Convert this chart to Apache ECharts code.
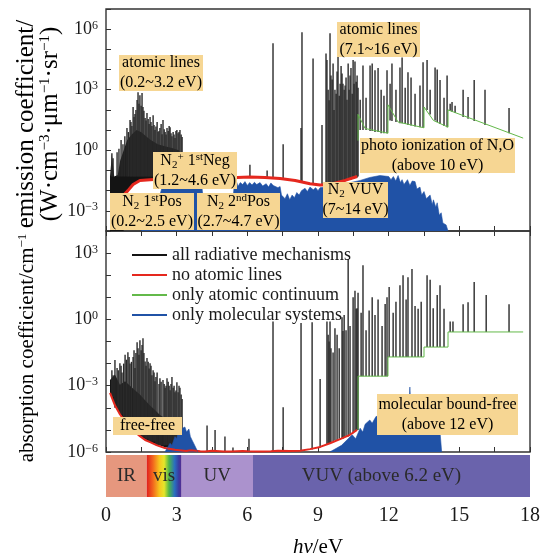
<!DOCTYPE html>
<html>
<head>
<meta charset="utf-8">
<script src="https://cdn.jsdelivr.net/npm/echarts@6/dist/echarts.min.js"></script>
<style>
html,body{margin:0;padding:0;background:#fff}
#chart{width:545px;height:555px}
</style>
</head>
<body>
<div id="chart"></div>
<script>
// ---------- photon energy (eV) ----------
const energyTickLabels = [0, 3, 6, 9, 12, 15, 18];

// ---------- emission coefficient (W·cm^-3·µm^-1·sr^-1) ----------
// solid core of the IR / visible line forest: upper edge and floor
const emisForestTop = [[0.17,0.05],[0.25,0.6],[0.35,0.05],[0.5,0.06],[0.6,0.3],[0.75,1],[0.9,3.2],[1.1,6.3],[1.3,10],[1.5,7.9],[1.7,5],[1.9,3.2],[2.2,2],[2.5,1.6],[2.8,1.3],[3.1,1],[3.27,0.3]];
const emisForestFloor = [[0.17,1e-4],[0.75,1e-4],[0.76,6.3e-3],[0.93,1e-2],[1.15,2e-2],[1.44,3.2e-2],[1.87,3.5e-2],[2.72,4e-2],[3.27,4.2e-2]];
// individual atomic lines: [energy, foot, peak]
const emisLines = [
  [0.25,0.05,0.72],[0.30,0.05,0.4],[0.47,0.05,0.8],[0.55,0.05,1.2],[0.64,0.05,3.2],[0.72,0.05,2],[0.80,0.05,5],[0.89,0.05,12.6],[0.95,0.05,8],
  [1.02,0.05,32],[1.06,0.05,25],[1.10,0.05,16],[1.15,0.05,140],[1.19,0.05,45],[1.23,0.05,63],[1.27,0.05,100],[1.32,0.05,310],[1.36,0.05,760],
  [1.40,0.05,200],[1.44,0.05,540],[1.49,0.05,160],[1.53,0.05,680],[1.57,0.05,140],[1.61,0.05,90],[1.66,0.05,40],[1.70,0.05,30],[1.74,0.05,70],
  [1.79,0.05,35],[1.83,0.05,20],[1.87,0.05,44],[1.91,0.05,25],[1.95,0.05,16],[2.00,0.05,55],[2.04,0.05,18],[2.08,0.05,10],[2.12,0.05,15],
  [2.17,0.05,25],[2.21,0.05,8],[2.25,0.05,9],[2.29,0.05,12.6],[2.34,0.05,20],[2.38,0.05,6.3],[2.42,0.05,32],[2.47,0.05,11],[2.51,0.05,8],
  [2.55,0.05,6],[2.59,0.05,12.6],[2.64,0.05,9],[2.68,0.05,16],[2.72,0.05,14],[2.76,0.05,7],[2.80,0.05,5],[2.85,0.05,8],[2.89,0.05,6],
  [2.93,0.05,4],[2.97,0.05,9],[3.01,0.05,10],[3.06,0.05,7],[3.10,0.05,8],[3.14,0.05,10],[3.19,0.05,6],[3.23,0.05,4.5],
  [6.11,0.047,0.19],[6.84,0.045,0.1],[7.09,0.04,2e5],[7.52,0.04,2],[8.28,0.03,12.6],[8.32,0.03,7e5],[8.79,0.022,3.5e4],[9.17,0.019,18],
  [9.34,0.02,6.3e4],[9.38,0.02,3e4],[9.43,0.02,1e3],[9.47,0.02,300],[9.51,0.02,6.3e5],[9.55,0.02,5e3],[9.60,0.02,3.2e3],[9.64,0.02,2e4],
  [9.68,0.02,100],[9.72,0.02,1e3],[9.77,0.025,630],[9.81,0.025,8e3],[9.85,0.025,1.26e5],[9.90,0.025,500],[9.94,0.025,2e3],[9.98,0.03,1.5e4],
  [10.02,0.03,6.3e3],[10.06,0.03,2e3],[10.11,0.03,1e3],[10.15,0.03,1.6e3],[10.19,0.03,4e3],[10.23,0.03,316],[10.28,0.035,2e4],[10.32,0.035,1e3],
  [10.36,0.035,5e3],[10.40,0.035,1.2e4],[10.45,0.04,630],[10.49,0.04,3e4],[10.53,0.04,2e3],[10.57,0.045,2.5e4],[10.62,0.045,2.5e3],[10.66,0.045,5e3],
  [10.70,0.05,1.26e3],[10.79,10,316],[10.91,10,1.6e4],[11.04,10,400],[11.21,9,1.6e4],[11.30,9,2e4],[11.42,8,9.3e3],[11.55,8,1.2e4],
  [11.68,7,1e3],[11.80,7,500],[11.93,7,9.3e3],[12.06,30,2e3],[12.14,28,2e4],[12.31,25,1e3],[12.48,22,1.26e4],[12.57,22,4e4],
  [12.70,20,1.26e3],[12.82,18,7.4e3],[12.95,17,4e3],[13.12,15,630],[13.33,14,1.6e3],[13.46,13,2.3e4],[13.63,100,3e4],[13.76,60,1e3],
  [13.97,30,1.26e4],[14.06,25,1e4],[14.18,20,3e3],[14.35,16,400],[14.48,14,5e3],[14.61,90,200],[14.69,80,250],[14.82,70,160],
  [15.16,45,1e3],[15.37,36,430],[15.63,28,3e3],[16.09,18,1e3],[17.11,7,126]
];
const emisNoLines = [[0.76,6.3e-3],[0.93,1e-2],[1.15,2e-2],[1.44,3.2e-2],[1.87,3.5e-2],[2.72,4e-2],[3.99,4.5e-2],[5.56,4.5e-2],[6.11,4.7e-2],[6.75,4.5e-2],[7.39,4e-2],[8.03,3.2e-2],[8.66,2.2e-2],[9.09,1.9e-2],[9.51,2e-2],[10.15,3.2e-2],[10.66,5e-2]];
const emisContinuum = [[10.70,3],[10.70,60],[11.0,12],[11.97,7],[11.97,180],[12.4,25],[13.5,13],[13.5,140],[13.9,30],[14.52,14],[14.52,100],[17.71,4]];
const emisMolecular = [
  [1.50,1e-4],[1.53,6e-3],[1.70,4e-3],[1.90,6e-3],[2.29,6e-3],[2.36,1.2e-2],[4.08,1.2e-2],[4.12,5e-3],[5.40,5e-3],
  [5.45,2.2e-2],[5.55,2.6e-2],[5.6,1.6e-2],[5.7,2.5e-2],[5.8,2e-2],[5.9,2.8e-2],[6.0,1.8e-2],[6.1,2.5e-2],[6.2,1.9e-2],[6.3,2.6e-2],
  [6.4,2e-2],[6.54,2.5e-2],[6.65,1.7e-2],[6.8,2.2e-2],[6.9,1.5e-2],[7.0,2.4e-2],[7.1,1.8e-2],[7.18,2.2e-2],[7.3,1.4e-2],[7.39,1.6e-2],
  [7.45,6e-3],[7.6,4e-3],[7.7,7e-3],[7.8,3.5e-3],[7.9,6e-3],[8.0,4.5e-3],[8.1,8e-3],[8.2,6e-3],[8.3,1e-2],[8.45,1.3e-2],[8.55,9e-3],
  [8.66,1.5e-2],[8.8,1.1e-2],[8.9,1.4e-2],[9.0,1e-2],[9.09,1.4e-2],[9.51,1.6e-2],[10.0,2e-2],[10.79,3.2e-2],[11.2,4.5e-2],[11.63,5.6e-2],
  [12.0,5e-2],[12.1,3.5e-2],[12.2,5e-2],[12.3,3e-2],[12.4,5.6e-2],[12.5,2.5e-2],[12.57,3.5e-2],[12.65,2e-2],[12.8,3.5e-2],[12.9,1.8e-2],
  [13.0,3e-2],[13.12,2.8e-2],[13.2,1.2e-2],[13.33,1.5e-2],[13.4,6e-3],[13.5,9e-3],[13.6,4e-3],[13.76,6e-3],[13.85,2e-3],[13.9,3.5e-3],
  [14.0,1.5e-3],[14.06,2.5e-3],[14.15,6e-4],[14.23,8e-4],[14.3,2.5e-4],[14.44,2e-4],[14.52,1e-4]
];

// ---------- absorption coefficient (cm^-1) ----------
const absForestTop = [[0.17,1.8e-3],[0.38,3.2e-3],[0.59,1.1e-3],[0.81,1.6e-3],[1.02,1e-3],[1.23,6.3e-4],[1.44,4e-4],[1.66,2.2e-4],[1.87,1.26e-4],[2.08,8e-5],[2.29,4.7e-5],[2.51,3.4e-5],[2.72,2.8e-5],[2.93,2.5e-5],[3.14,1.66e-5],[3.27,5e-6]];
const absForestFloor = [[0.17,4.7e-4],[0.38,1.3e-4],[0.59,5.1e-5],[1.02,1.35e-5],[1.44,5.2e-6],[1.87,2.8e-6],[2.5,1.66e-6],[3.27,1.35e-6]];
const absLines = [
  [0.25,3e-4,5e-3],[0.30,3e-4,3e-3],[0.38,1e-4,1.45e-2],[0.47,1e-4,6.3e-3],[0.52,8e-5,5e-3],[0.59,5e-5,1.05e-2],[0.64,5e-5,8e-3],[0.68,5e-5,4e-3],
  [0.75,4e-5,1e-2],[0.81,3e-5,2.5e-2],[0.87,3e-5,1.5e-2],[0.93,2e-5,3.3e-2],[0.98,2e-5,2e-2],[1.02,2e-5,1e-2],[1.08,1.5e-5,1.2e-2],[1.15,1e-5,2e-2],
  [1.19,1e-5,4e-2],[1.23,1e-5,6.3e-3],[1.27,1e-5,3e-2],[1.32,8e-6,9.3e-2],[1.36,8e-6,5e-2],[1.40,8e-6,2.5e-2],[1.44,6e-6,0.115],[1.49,6e-6,4e-2],
  [1.53,5e-6,7e-2],[1.57,5e-6,0.14],[1.61,5e-6,3e-2],[1.66,4e-6,1.26e-2],[1.70,4e-6,8e-3],[1.74,4e-6,1.8e-2],[1.79,4e-6,1.2e-2],[1.83,3e-6,6e-3],
  [1.87,3e-6,1.05e-2],[1.91,3e-6,8e-3],[1.95,3e-6,3e-3],[2.00,3e-6,5e-3],[2.04,3e-6,4e-3],[2.08,3e-6,1.6e-3],[2.12,2e-6,2.5e-3],[2.17,2e-6,4e-3],
  [2.25,2e-6,1.2e-3],[2.29,2e-6,2.2e-3],[2.34,2e-6,1.5e-3],[2.42,2e-6,1.8e-3],[2.47,2e-6,1.2e-3],[2.51,2e-6,8e-4],[2.55,2e-6,1e-3],[2.59,2e-6,2.2e-3],
  [2.64,2e-6,1.5e-3],[2.68,2e-6,1e-3],[2.72,2e-6,6.3e-4],[2.76,2e-6,1.2e-3],[2.80,2e-6,2.5e-3],[2.85,1.5e-6,8e-4],[2.89,1.5e-6,1e-3],[2.93,1.5e-6,5e-4],
  [2.97,1.5e-6,6e-4],[3.01,1.5e-6,1.45e-3],[3.06,1.5e-6,5e-4],[3.10,1.5e-6,1e-3],[3.14,1.5e-6,8e-4],[3.19,1.5e-6,4e-4],[3.23,1.5e-6,2.5e-4],
  [4.29,1.1e-6,1.6e-5],[4.63,1.1e-6,1e-5],[5.05,1.1e-6,5e-6],[5.39,1.1e-6,1.6e-6],[6.07,1.1e-6,4e-6],[7.09,1.1e-6,0.8],[7.52,1.1e-6,1.07e-4],
  [8.28,1.1e-6,0.68],[8.75,1.3e-6,0.74],[9.09,1.6e-6,2e-3],[9.38,2.2e-6,0.8],[9.43,2.3e-6,0.2],[9.47,2.4e-6,0.1],[9.51,2.5e-6,0.8],[9.55,2.6e-6,5e-2],
  [9.64,3e-6,3.2e-2],[9.72,3.3e-6,0.4],[9.81,3.5e-6,0.2],[9.90,4e-6,5e-2],[10.02,4e-6,1.26],[10.06,4e-6,0.3],[10.11,4.5e-6,1.6],[10.19,5e-6,0.32],
  [10.28,5e-6,540],[10.36,6e-6,0.5],[10.49,7e-6,10],[10.57,8e-6,20],[10.62,9e-6,3],[10.66,1e-5,3.2],[10.70,1e-5,16],
  [10.83,2.7e-3,2],[10.91,2.7e-3,280],[11.04,2.7e-3,0.32],[11.17,2.7e-3,2.5],[11.30,2.7e-3,10],[11.42,2.7e-3,1.6],[11.55,2.7e-3,8],[11.72,2.7e-3,0.5],
  [11.85,2.7e-3,5],[11.93,2.7e-3,10],[12.02,2e-2,29],[12.19,2e-2,2],[12.31,2e-2,6.3],[12.48,2e-2,35],[12.61,2e-2,100],[12.74,2e-2,8],[12.82,2e-2,80],
  [12.99,2e-2,190],[13.12,2e-2,4],[13.25,2e-2,3],[13.38,2e-2,6.3],[13.63,5.6e-2,100],[13.76,5.6e-2,63],[13.89,5.6e-2,3.2],[14.06,5.6e-2,12.6],
  [14.18,5.6e-2,35],[14.35,5.6e-2,3],[14.61,0.27,0.8],[14.73,0.27,0.8],[15.16,0.27,4.9],[15.37,0.27,6],[15.63,0.27,49],[16.14,0.27,12.6],[17.11,0.27,4.9]
];
const absNoLines = [[0.17,4.7e-4],[0.38,1.3e-4],[0.59,5.1e-5],[0.8,2.5e-5],[1.02,1.35e-5],[1.23,8e-6],[1.44,5.2e-6],[1.66,3.5e-6],[1.87,2.8e-6],[2.17,2e-6],[2.5,1.5e-6],[2.93,1.25e-6],[3.4,1.12e-6],[3.6,1.2e-6],[4.0,1.08e-6],[4.2,1.05e-6],[4.5,1.15e-6],[5.0,1.06e-6],[5.3,1.05e-6],[5.8,1.12e-6],[6.0,1.08e-6],[6.6,1.05e-6],[7.0,1.08e-6],[7.3,1.15e-6],[7.8,1.1e-6],[8.24,1.15e-6],[8.66,1.35e-6],[9.09,1.7e-6],[9.51,2.5e-6],[9.94,3.8e-6],[10.36,6e-6],[10.66,1e-5]];
const absContinuum = [[10.70,1e-5],[10.70,2.7e-3],[11.97,2.7e-3],[11.97,2e-2],[13.5,2e-2],[13.5,5.6e-2],[14.52,5.6e-2],[14.52,0.27],[17.71,0.27]];
const absMolecular = [
  [2.5,1e-6],[2.6,1.5e-6],[2.72,2.5e-6],[2.8,2e-6],[2.93,5e-6],[3.0,4e-6],[3.05,7e-6],[3.14,1e-5],[3.2,7e-6],[3.25,1.2e-5],[3.35,1.35e-5],
  [3.42,8e-6],[3.45,9e-6],[3.52,1.1e-5],[3.58,5e-6],[3.65,3.5e-6],[3.72,2.5e-6],[3.82,1.5e-6],[3.9,1e-6],[6.5,'-'],
  [9.5,1e-6],[10.0,2e-6],[10.45,6e-6],[10.6,4e-6],[10.79,1.2e-5],[10.9,8e-6],[11.0,1.8e-5],[11.2,2.8e-5],[11.3,2e-5],[11.46,4e-5],
  [11.8,5e-5],[12.4,6e-5],[12.85,7e-5],[12.9,8.7e-4],[12.95,7e-5],[13.5,4e-5],[14.0,1.5e-5],[14.1,6e-6],[14.18,8e-6],[14.25,1e-6]
];

// ---------- spectral regions ----------
const bandEdges = [0, 1.73, 3.21, 6.24, 18];
const bandNames = ['IR', 'vis', 'UV', 'VUV (above 6.2 eV)'];

// ---------- styling ----------
const FONT = '"Liberation Serif", "Times New Roman", serif';
const INK = '#1a1a1a';
const C_ALL = '#141414', C_RED = '#e5281e', C_GREEN = '#63b94a', C_BLUE = '#2052a6';
const NOTE_BG = '#f6d693';
const bandFills = [
  '#e6977e',
  {type:'linear', x:0, y:0, x2:1, y2:0, colorStops:[
    {offset:0,color:'#e01f1c'},{offset:0.18,color:'#f2671e'},{offset:0.36,color:'#f7c41e'},{offset:0.5,color:'#e6e62a'},
    {offset:0.64,color:'#4cb54a'},{offset:0.8,color:'#2a6fc0'},{offset:0.92,color:'#3a3aa0'},{offset:1,color:'#5a2a90'}]},
  '#ab92cd',
  '#6a63ac'
];
// the long VUV caption sits a little left of its strip's centre
const bandTextShift = [0, 0, 0, -10];

function powLabel(v) {
  const e = Math.round(Math.log10(v));
  if (e % 3 !== 0) return '';
  return '{b|10}{s|' + (e < 0 ? '\u2212' + (-e) : e) + '}';
}
const powRich = {
  b: {fontSize: 18, fontFamily: FONT, color: INK},
  s: {fontSize: 12, fontFamily: FONT, color: INK, padding: [0, 0, 7, 0]}
};

function spikeRender(params, api) {
  const x = api.value(0);
  const a = api.coord([x, api.value(1)]);
  const b = api.coord([x, api.value(2)]);
  return {type: 'line', shape: {x1: a[0], y1: a[1], x2: b[0], y2: b[1]},
          style: {stroke: '#2a2a2a', lineWidth: 1.4, opacity: 1}};
}
function forestRender(upper, lower) {
  return function (params, api) {
    if (params.dataIndex !== 0) return null;
    const pts = upper.map(p => api.coord(p)).concat(lower.slice().reverse().map(p => api.coord(p)));
    return {type: 'polygon', shape: {points: pts}, style: {fill: C_ALL}};
  };
}

function xAxisPanel(grid, pos) {
  return {type: 'value', gridIndex: grid, min: 0, max: 18, interval: 1.5, position: pos,
    axisLine: {show: false}, axisLabel: {show: false}, splitLine: {show: false},
    axisTick: {inside: true, length: 5, lineStyle: {color: '#333', width: 1}}};
}
function yAxisPanel(grid, min, max) {
  return {type: 'log', logBase: 10, gridIndex: grid, min: min, max: max, interval: 1,
    axisLine: {show: false}, splitLine: {show: false},
    axisTick: {inside: true, length: 5, lineStyle: {color: '#333', width: 1}},
    axisLabel: {formatter: powLabel, rich: powRich, margin: 8, showMinLabel: true, showMaxLabel: true}};
}

const option = {
  animation: false,
  backgroundColor: '#fff',
  grid: [
    {left: 106, width: 424, top: 9, height: 222, show: true, borderColor: '#333', borderWidth: 1.4, backgroundColor: 'transparent'},
    {left: 106, width: 424, top: 231, height: 221, show: true, borderColor: '#333', borderWidth: 1.4, backgroundColor: 'transparent'},
    {left: 106, width: 424, top: 455, height: 42}
  ],
  xAxis: [
    xAxisPanel(0, 'bottom'),
    xAxisPanel(1, 'bottom'),
    xAxisPanel(1, 'top'),
    {type: 'value', gridIndex: 2, min: 0, max: 18, interval: 3, position: 'bottom',
     axisLine: {show: false}, axisTick: {show: false}, splitLine: {show: false},
     axisLabel: {margin: 9, fontSize: 20, fontFamily: FONT, color: INK,
                 formatter: v => (energyTickLabels.indexOf(v) >= 0 ? String(v) : '')}}
  ],
  yAxis: [
    yAxisPanel(0, 1e-4, 1e7),
    yAxisPanel(1, 1e-6, 1e4),
    {type: 'value', gridIndex: 2, min: 0, max: 1, show: false}
  ],
  legend: {
    orient: 'vertical', left: 127, top: 241, itemWidth: 35, itemHeight: 2, itemGap: 2,
    icon: 'rect', selectedMode: false,
    textStyle: {fontSize: 18, fontFamily: FONT, color: INK},
    data: [
      {name: 'all radiative mechanisms', itemStyle: {color: C_ALL}},
      {name: 'no atomic lines', itemStyle: {color: C_RED}},
      {name: 'only atomic continuum', itemStyle: {color: C_GREEN}},
      {name: 'only molecular systems', itemStyle: {color: C_BLUE}}
    ]
  },
  series: [
    // emission panel
    {type: 'custom', name: 'all radiative mechanisms', xAxisIndex: 0, yAxisIndex: 0, clip: true,
     data: [emisForestTop[0]], encode: {x: 0, y: 1}, renderItem: forestRender(emisForestTop, emisForestFloor)},
    {type: 'custom', name: 'all radiative mechanisms', xAxisIndex: 0, yAxisIndex: 0, clip: true,
     data: emisLines, encode: {x: 0, y: [1, 2]}, renderItem: spikeRender},
    {type: 'line', name: 'no atomic lines', xAxisIndex: 0, yAxisIndex: 0, data: emisNoLines, showSymbol: false,
     lineStyle: {color: C_RED, width: 3}, itemStyle: {color: C_RED}},
    {type: 'line', name: 'only atomic continuum', xAxisIndex: 0, yAxisIndex: 0, data: emisContinuum, showSymbol: false,
     lineStyle: {color: C_GREEN, width: 1}, itemStyle: {color: C_GREEN}},
    {type: 'line', name: 'only molecular systems', xAxisIndex: 0, yAxisIndex: 0, data: emisMolecular, showSymbol: false,
     lineStyle: {color: C_BLUE, width: 0.6}, itemStyle: {color: C_BLUE}, areaStyle: {color: C_BLUE, opacity: 1, origin: 'start'}},
    // absorption panel
    {type: 'custom', name: 'all radiative mechanisms', xAxisIndex: 1, yAxisIndex: 1, clip: true,
     data: [absForestTop[0]], encode: {x: 0, y: 1}, renderItem: forestRender(absForestTop, absForestFloor)},
    {type: 'custom', name: 'all radiative mechanisms', xAxisIndex: 1, yAxisIndex: 1, clip: true,
     data: absLines, encode: {x: 0, y: [1, 2]}, renderItem: spikeRender},
    {type: 'line', name: 'no atomic lines', xAxisIndex: 1, yAxisIndex: 1, data: absNoLines, showSymbol: false,
     lineStyle: {color: C_RED, width: 2}, itemStyle: {color: C_RED}},
    {type: 'line', name: 'only atomic continuum', xAxisIndex: 1, yAxisIndex: 1, data: absContinuum, showSymbol: false,
     lineStyle: {color: C_GREEN, width: 1}, itemStyle: {color: C_GREEN}},
    {type: 'line', name: 'only molecular systems', xAxisIndex: 1, yAxisIndex: 1, data: absMolecular, showSymbol: false,
     connectNulls: false, lineStyle: {color: C_BLUE, width: 0.6}, itemStyle: {color: C_BLUE},
     areaStyle: {color: C_BLUE, opacity: 1, origin: 'start'}},
    // spectral regions strip
    {type: 'custom', xAxisIndex: 3, yAxisIndex: 2, silent: true,
     data: bandNames.map((n, i) => [bandEdges[i], bandEdges[i + 1], i]),
     renderItem: function (params, api) {
       const i = api.value(2);
       const p0 = api.coord([api.value(0), 1]);
       const p1 = api.coord([api.value(1), 0]);
       return {type: 'group', children: [
         {type: 'rect', shape: {x: p0[0], y: p0[1], width: p1[0] - p0[0], height: p1[1] - p0[1]}, style: {fill: bandFills[i]}},
         {type: 'text', x: (p0[0] + p1[0]) / 2 + bandTextShift[i], y: (p0[1] + p1[1]) / 2,
          style: {text: bandNames[i], align: 'center', verticalAlign: 'middle', fontSize: 19, fontFamily: FONT, fill: '#2a2a2a'}}
       ]};
     }}
  ],
  graphic: []
};

// annotation boxes
const noteRich = function (color) {
  return {
    t: {fontSize: 16, fontFamily: FONT, color: color, lineHeight: 20},
    sub: {fontSize: 11, fontFamily: FONT, color: color, padding: [9, 0, 0, 0]},
    sup: {fontSize: 11, fontFamily: FONT, color: color, padding: [0, 0, 7, 0]}
  };
};
const notes = [
  {x: 119, y: 55, w: 84, h: 36, c: INK, text: '{t|atomic lines}\n{t|(0.2~3.2 eV)}'},
  {x: 337, y: 22, w: 83, h: 35, c: INK, text: '{t|atomic lines}\n{t|(7.1~16 eV)}'},
  {x: 153, y: 152, w: 84, h: 37, c: '#8783d0', text: '{t|N}{sub|2}{sup|+}{t| 1}{sup|st}{t|Neg}\n{t|(1.2~4.6 eV)}'},
  {x: 110, y: 193, w: 84, h: 37, c: '#3f7f3a', text: '{t|N}{sub|2}{t| 1}{sup|st}{t|Pos}\n{t|(0.2~2.5 eV)}'},
  {x: 197, y: 193, w: 83, h: 37, c: '#3f7f3a', text: '{t|N}{sub|2}{t| 2}{sup|nd}{t|Pos}\n{t|(2.7~4.7 eV)}'},
  {x: 323, y: 182, w: 65, h: 36, c: '#2f5fae', text: '{t|N}{sub|2}{t| VUV}\n{t|(7~14 eV)}'},
  {x: 360, y: 138, w: 155, h: 35, c: '#e8352b', text: '{t|photo ionization of N,O}\n{t|(above 10 eV)}'},
  {x: 113, y: 417, w: 69, h: 18, c: '#e8352b', text: '{t|free-free}'},
  {x: 377, y: 394, w: 141, h: 41, c: '#3f7f3a', text: '{t|molecular bound-free}\n{t|(above 12 eV)}'}
];
notes.forEach(function (n) {
  option.graphic.push({type: 'rect', z: 100, shape: {x: n.x, y: n.y, width: n.w, height: n.h}, style: {fill: NOTE_BG}});
  option.graphic.push({type: 'text', z: 101, x: n.x + n.w / 2, y: n.y + n.h / 2,
    style: {text: n.text, rich: noteRich(n.c), align: 'center', verticalAlign: 'middle'}});
});

// axis titles
const titleRich = {
  m: {fontSize: 21, fontFamily: FONT, color: INK},
  s: {fontSize: 13, fontFamily: FONT, color: INK, padding: [0, 0, 9, 0]},
  i: {fontSize: 21, fontFamily: FONT, color: INK, fontStyle: 'italic'},
  M: {fontSize: 25, fontFamily: FONT, color: INK},
  S: {fontSize: 15, fontFamily: FONT, color: INK, padding: [0, 0, 10, 0]}
};
option.graphic.push(
  {type: 'text', z: 101, x: 26, y: 124, rotation: Math.PI / 2,
   style: {text: '{M|emission coefficient/}', rich: titleRich, align: 'center', verticalAlign: 'middle'}},
  {type: 'text', z: 101, x: 50, y: 124, rotation: Math.PI / 2,
   style: {text: '{M|(W\u00b7cm}{S|\u22123}{M|\u00b7\u03bcm}{S|\u22121}{M|\u00b7sr}{S|\u22121}{M|)}', rich: titleRich, align: 'center', verticalAlign: 'middle'}},
  {type: 'text', z: 101, x: 27, y: 348, rotation: Math.PI / 2,
   style: {text: '{m|absorption coefficient/cm}{s|\u22121}', rich: titleRich, align: 'center', verticalAlign: 'middle'}},
  {type: 'text', z: 101, x: 318, y: 547,
   style: {text: '{i|h\u03bd}{m|/eV}', rich: titleRich, align: 'center', verticalAlign: 'middle'}}
);

const chart = echarts.init(document.getElementById('chart'), null, {renderer: 'canvas'});
chart.setOption(option);
</script>
</body>
</html>
